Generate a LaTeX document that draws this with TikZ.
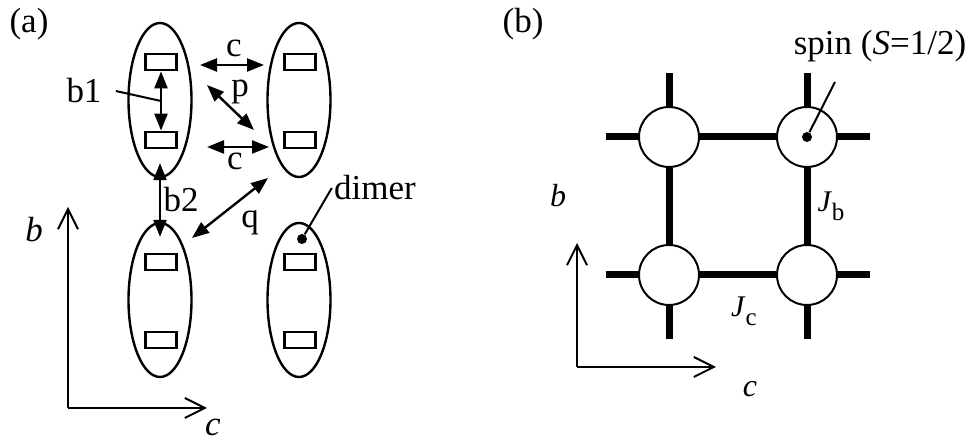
\documentclass[tikz,border=0pt]{standalone}
\usepackage{fontspec}
\setmainfont{Liberation Serif}
\usepackage{tikz}
\usetikzlibrary{calc,arrows.meta,positioning,shapes.geometric}
\newcommand{\Jsub}[1]{\textit{J}\raisebox{-4.5pt}{\fontsize{12.5}{14}\selectfont #1}}
\tikzset{
  dimerell/.style={draw,ellipse,line width=1.2pt,minimum width=31.5pt,minimum height=77pt,inner sep=0pt},
  unitbox/.style={draw,rectangle,line width=1.4pt,minimum width=15.5pt,minimum height=8pt,inner sep=0pt},
  dbl/.style={{Triangle[length=8.5pt,width=6.5pt]}-{Triangle[length=8.5pt,width=6.5pt]},line width=1.2pt},
  crysaxis/.style={-{Straight Barb[length=10pt,width=10pt]},line width=1pt},
  lab/.style={inner sep=1pt,anchor=base,font=\rmfamily\fontsize{17.5}{21}\selectfont},
  spinsite/.style={draw,circle,fill=white,line width=1pt,minimum size=30pt,inner sep=0pt},
  bond/.style={line width=3.5pt},
  blob/.style={circle,fill,inner sep=0pt,minimum size=5pt}
}
\begin{document}
\begin{tikzpicture}[x=0.5pt,y=-0.5pt]
\useasboundingbox (0,0) rectangle (976,442);
\node[lab] (aLab) at (29,33) {(a)};
\node[dimerell] (dA) at (160,100) {};
\node[dimerell,on grid,right=69.5pt of dA] (dB) {};
\node[dimerell,on grid,below=100pt of dA] (dC) {};
\node[dimerell,on grid,below=100pt of dB] (dD) {};
\foreach \d in {dA,dB,dC,dD}{\node[unitbox] (\d1) at ([xshift=0.5pt,yshift=19pt]\d.center) {}; \node[unitbox] (\d2) at ([xshift=0.5pt,yshift=-20pt]\d.center) {};}
\draw[dbl] (dA1.south) -- (dA2.north) coordinate[midway] (bmid);
\draw[dbl] ($(dA.south)+(0,-15)$) -- ($(dC.north)+(0,15)$);
\draw[dbl] ($(dA1.center)+(39,3)$) -- ($(dB1.center)+(-36,3)$);
\draw[dbl] ($(dA1.center)+(46,23)$) -- ($(dB2.center)+(-46,-10)$);
\draw[dbl] ($(dA2.center)+(46,7)$) -- ($(dB2.center)+(-31,7)$);
\draw[dbl] ($(dB.center)+(-31,78)$) -- ($(dC.center)+(32,-62)$);
\node[lab] (cTop) at (234,57) {c};
\node[lab] (pLab) at (240,97) {p};
\node[lab] (cLow) at (235,170) {c};
\node[lab] (b1) at (84,103) {b1};
\node[lab] (b2) at (181,212) {b2};
\node[lab] (qLab) at (250,228) {q};
\node[lab] (dimLab) at (375,200) {dimer};
\draw[line width=1pt] ([xshift=6pt]b1.east) -- (bmid);
\node[blob] (dimDot) at ($(dD.center)+(3,-61)$) {};
\draw[line width=1pt] (dimDot) -- (dimLab.west);
\coordinate (oA) at (68,408);
\draw[crysaxis] (oA) -- ++(0,-201);
\draw[crysaxis] (oA) -- ++(139,0);
\node[lab] (bAx) at (34,242) {\textit{b}};
\node[lab] (cAx) at (213,436) {\textit{c}};
\node[lab] (bLab) at (523,33) {(b)};
\node[spinsite] (s1) at (669,137) {};
\node[spinsite,on grid,right=69pt of s1] (s2) {};
\node[spinsite,on grid,below=69pt of s1] (s3) {};
\node[spinsite,on grid,below=69pt of s2] (s4) {};
\draw[bond] (s1) -- (s2); \draw[bond] (s3) -- (s4);
\draw[bond] (s1) -- (s3); \draw[bond] (s2) -- (s4);
\foreach \n in {s1,s3}{\draw[bond] (\n.west) -- ++(-32,0);}
\foreach \n in {s2,s4}{\draw[bond] (\n.east) -- ++(32,0);}
\foreach \n in {s1,s2}{\draw[bond] (\n.north) -- ++(0,-33);}
\foreach \n in {s3,s4}{\draw[bond] (\n.south) -- ++(0,33);}
\node[blob] (sDot) at (s2.center) {};
\coordinate (spinTip) at (835,82);
\draw[line width=1pt] (sDot) -- (spinTip);
\node[lab] (spinLab) at (880,55) {spin (\textit{S}=1/2)};
\node[lab,font=\rmfamily\fontsize{15}{18}\selectfont] (Jb) at (831,212) {\Jsub{b}};
\node[lab,font=\rmfamily\fontsize{15}{18}\selectfont] (Jc) at (744,317) {\Jsub{c}};
\coordinate (oB) at (577,367);
\draw[crysaxis] (oB) -- ++(0,-124);
\draw[crysaxis] (oB) -- ++(139,0);
\node[lab,font=\rmfamily\fontsize{16}{19}\selectfont] (bAxB) at (558,207) {\textit{b}};
\node[lab,font=\rmfamily\fontsize{16}{19}\selectfont] (cAxB) at (750,397) {\textit{c}};
\end{tikzpicture}
\end{document}
